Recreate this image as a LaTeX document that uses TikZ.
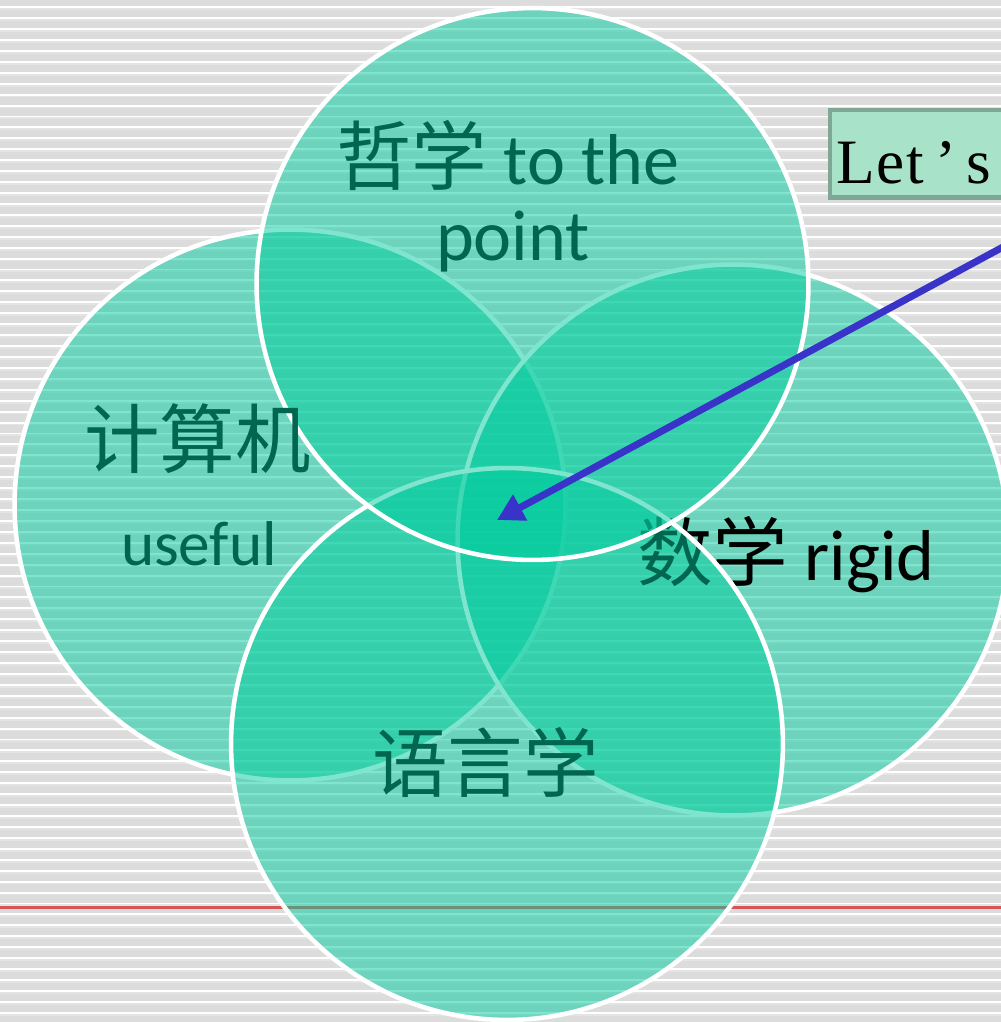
\documentclass[tikz,border=0pt]{standalone}
\usepackage{fontspec}
\setmainfont{Carlito}
\newfontfamily\cjk{Noto Sans CJK SC}
\newfontfamily\boxfont{Liberation Serif}
\usetikzlibrary{arrows.meta}
\definecolor{bgc}{HTML}{DCDCDC}
\definecolor{bandc}{HTML}{E4E4E4}
\definecolor{teal}{HTML}{00CC9E}
\definecolor{darktext}{HTML}{00664F}
\definecolor{boxfill}{HTML}{A8E3C9}
\definecolor{boxline}{HTML}{7FA795}
\definecolor{redline}{HTML}{D95454}
\definecolor{arrowblue}{HTML}{3A33C9}
\newcommand{\cjkbig}[1]{{\cjk\fontsize{43}{50}\selectfont #1}}
\tikzset{
  venn/.style={circle, inner sep=0pt, fill=teal, fill opacity=0.5, draw=white, draw opacity=1, line width=2.6pt},
  bigtext/.style={font=\fontsize{41}{50}\selectfont, inner sep=0pt, text=darktext},
  stripe/.style={draw=white, line width=1.1pt},
  band/.style={draw=bandc, line width=1.3pt},
  pointer/.style={draw=arrowblue, line width=4pt, -{Triangle[length=15pt,width=16pt]}},
}
\begin{document}
\begin{tikzpicture}[x=0.02cm, y=-0.02cm]
\useasboundingbox (0,0) rectangle (1001,1022);
\begin{scope}
\clip (0,0) rectangle (1001,1022);
\fill[bgc] (0,0) rectangle (1001,1022);
\foreach \k in {0,...,93} {
  \draw[band] (0,{8.9+10.93*\k}) -- (1001,{8.9+10.93*\k});
  \draw[stripe] (0,{7.2+10.93*\k}) -- (1001,{7.2+10.93*\k});
}
\draw[draw=redline, line width=1.3pt] (0,907.5) -- (1001,907.5);
% box
\node[draw=boxline, line width=2.6pt, fill=boxfill, inner sep=0pt,
      minimum width=4.8cm, minimum height=1.76cm, anchor=north west] (letsbox) at (827.5,107.5) {};
\node[font=\boxfont\fontsize{36}{40}\selectfont, anchor=base west, inner sep=0pt] (lets) at (836,183) {L\hspace{0.03em}e\hspace{0.02em}t\hspace{0.18em}’\hspace{0.16em}s};
% circles
\node[venn, minimum size=11.02cm] (leftc) at (290,505) {};
\node[venn, minimum size=11.02cm] (rightc) at (733,540) {};
\node[bigtext, text=black, anchor=base west] (math) at (637,580) {\cjkbig{数学} rigid};
\node[venn, minimum size=11.04cm] (bottomc) at (507,744) {};
\node[venn, minimum size=11.04cm] (topc) at (532.5,284) {};
% texts
\node[bigtext, anchor=base west] (phil) at (336,184) {\cjkbig{哲学} to the};
\node[bigtext, anchor=base] (point) at (513,260) {point};
\node[bigtext, anchor=base west] (comp) at (84,467) {\cjkbig{计算机}};
\node[bigtext, font=\fontsize{36}{42}\selectfont, anchor=base] (useful) at (199,565) {useful};
\node[bigtext, anchor=base west] (ling) at (372,791) {\cjkbig{语言学}};
% arrow
\coordinate (astart) at (1016,240);
\coordinate (atip) at (497,520);
\draw[pointer] (astart) -- (atip);
\end{scope}
\end{tikzpicture}
\end{document}
